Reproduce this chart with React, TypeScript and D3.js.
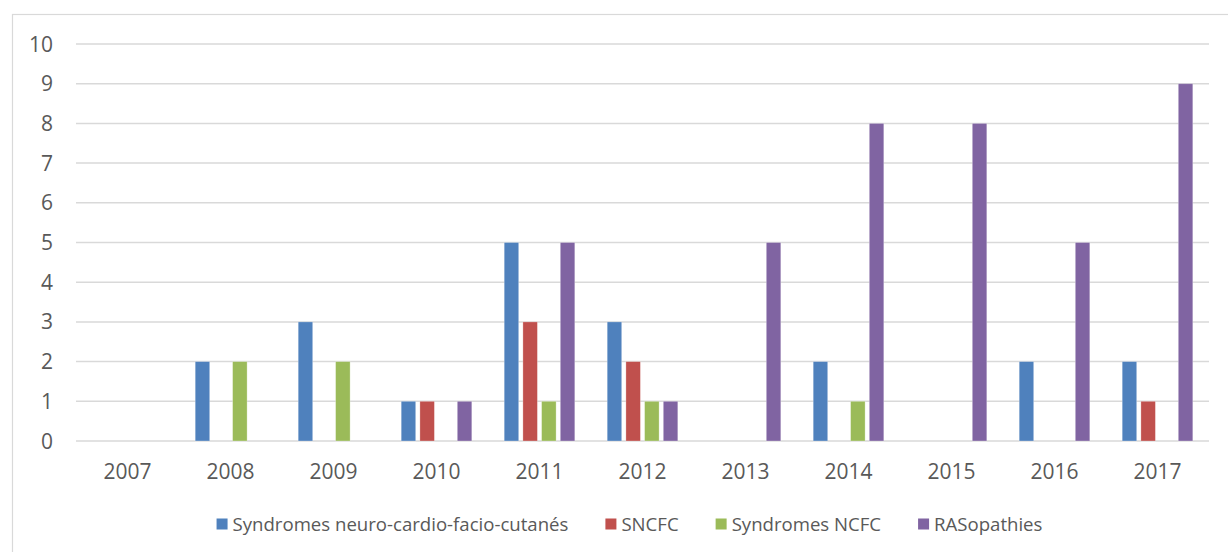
import React, { useLayoutEffect, useRef, useState } from "react";
import * as d3 from "d3";

const years = ["2007", "2008", "2009", "2010", "2011", "2012", "2013", "2014", "2015", "2016", "2017"];
const seriesNames = ["Syndromes neuro-cardio-facio-cutanés", "SNCFC", "Syndromes NCFC", "RASopathies"];
const seriesColors = ["#4F81BD", "#C0504D", "#9BBB59", "#8064A2"];
const neuroCardio = [0, 2, 3, 1, 5, 3, 0, 2, 0, 2, 2];
const sncfc = [0, 0, 0, 1, 3, 2, 0, 0, 0, 0, 1];
const syndromesNcfc = [0, 2, 2, 0, 1, 1, 0, 1, 0, 0, 0];
const rasopathies = [0, 0, 0, 1, 5, 1, 5, 8, 8, 5, 9];
const yTicks = [0, 1, 2, 3, 4, 5, 6, 7, 8, 9, 10];

const seriesValues = [neuroCardio, sncfc, syndromesNcfc, rasopathies];

const W = 1228;
const H = 552;
const plot = { left: 76, right: 1209, top: 44, bottom: 441 };
const FONT = "'Open Sans', sans-serif";
const TEXT = "#595959";
const GRID = "#d9d9d9";

export default function App() {
  const x0 = d3.scaleBand<string>().domain(years).range([plot.left, plot.right]).padding(0);
  const groupW = 74.8;
  const x1 = d3
    .scaleBand<string>()
    .domain(seriesNames)
    .range([-groupW / 2, groupW / 2])
    .paddingInner(0.225)
    .paddingOuter(0.1125);
  const y = d3.scaleLinear().domain([0, 10]).range([plot.bottom, plot.top]);

  const textRefs = useRef<(SVGTextElement | null)[]>([]);
  const [widths, setWidths] = useState<number[]>([336, 56, 147, 109]);
  useLayoutEffect(() => {
    const w = textRefs.current.map((t) => (t ? t.getComputedTextLength() : 0));
    if (w.some((v, i) => Math.abs(v - widths[i]) > 0.5)) setWidths(w);
  }, []);

  const sq = 11;
  const sqGap = 16;
  const itemGap = 37;
  const total = widths.reduce((a, w) => a + sqGap + w, 0) + itemGap * (widths.length - 1);
  const legendCenter = 629.5;
  let cx = legendCenter - total / 2;
  const legendPos = widths.map((w) => {
    const p = cx;
    cx += sqGap + w + itemGap;
    return p;
  });

  return (
    <svg
      width={W}
      height={H}
      style={{ position: "fixed", left: 0, top: 0, background: "#fff" }}
      fontFamily={FONT}
    >
      <rect x={0} y={0} width={W} height={H} fill="#fff" />
      <rect x={12.5} y={14.5} width={W + 20} height={H + 20} fill="none" stroke={GRID} strokeWidth={1.2} />
      {yTicks.map((t) => (
        <g key={t}>
          <line x1={plot.left} x2={plot.right} y1={y(t)} y2={y(t)} stroke={GRID} strokeWidth={1.5} />
          <text x={53} y={y(t) + 7.5} textAnchor="end" fontSize={21} fill={TEXT}>
            {t}
          </text>
        </g>
      ))}
      {years.map((yr, i) => (
        <g key={yr}>
          {seriesNames.map((s, j) => {
            const v = seriesValues[j][i];
            if (!v) return null;
            const cxBand = (x0(yr) as number) + x0.bandwidth() / 2;
            return (
              <rect
                key={s}
                x={cxBand + (x1(s) as number)}
                y={y(v)}
                width={x1.bandwidth()}
                height={y(0) - y(v)}
                fill={seriesColors[j]}
                stroke="#ffffff"
                strokeOpacity={0.35}
                strokeWidth={0.8}
              />
            );
          })}
          <text
            x={(x0(yr) as number) + x0.bandwidth() / 2}
            y={479}
            textAnchor="middle"
            fontSize={21}
            fill={TEXT}
          >
            {yr}
          </text>
        </g>
      ))}
      {seriesNames.map((s, j) => (
        <g key={s}>
          <rect x={legendPos[j]} y={518.5} width={sq} height={sq} fill={seriesColors[j]} />
          <text
            ref={(el) => {
              textRefs.current[j] = el;
            }}
            x={legendPos[j] + sqGap}
            y={531}
            fontSize={18.6}
            fill={TEXT}
          >
            {s}
          </text>
        </g>
      ))}
    </svg>
  );
}
